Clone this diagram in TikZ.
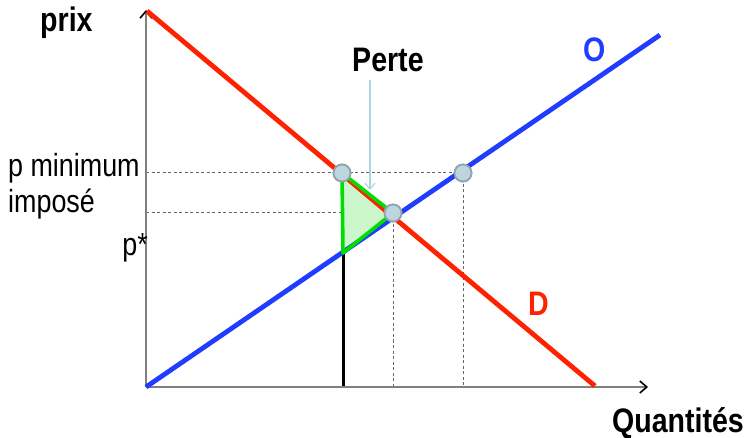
\documentclass[tikz,border=0pt]{standalone}
\usepackage{fontspec}
\setmainfont{Liberation Sans}[FakeStretch=0.84]
\usetikzlibrary{arrows.meta}
\definecolor{dred}{HTML}{FF2200}
\definecolor{sblue}{HTML}{1F3CFF}
\definecolor{lgreen}{HTML}{00DD00}
\definecolor{gfill}{HTML}{CCF6CC}
\definecolor{ptfill}{HTML}{BDD6DD}
\definecolor{ptdraw}{HTML}{8FA6AC}
\definecolor{callout}{HTML}{A9D6DE}
\begin{document}
\begin{tikzpicture}[x=1pt,y=-1pt,
  axis/.style={draw=gray, line width=1.6pt, -{Straight Barb[color=black,length=7pt,width=12pt,line width=1.6pt]}},
  guide/.style={draw=black!60, line width=1pt, dash pattern=on 3pt off 2.5pt},
  pt/.style={circle, fill=ptfill, draw=ptdraw, line width=1.8pt, minimum size=17pt, inner sep=0pt},
  boldlbl/.style={font=\bfseries\fontsize{34}{34}\selectfont},
  lbl/.style={font=\fontsize{32}{32}\selectfont}]
\useasboundingbox (0,0) rectangle (755,438);
% axes
\coordinate (O) at (146,387);
\coordinate (Ytop) at (146,10);
\coordinate (Xend) at (648,387);
% curve ends
\coordinate (Dstart) at (147,11);
\coordinate (Dend) at (595,386);
\coordinate (Send) at (660,35);
% triangle lower vertex
\coordinate (C) at (343,253);
\coordinate (Cfoot) at (343,387);
\coordinate (Eyax) at (146,213);
\coordinate (Myax) at (146,173);
\coordinate (Efoot) at (393,387);
\coordinate (Bfoot) at (463,387);
\coordinate (Arrtop) at (370,80);
\coordinate (Arrend) at (370,190);
% points
\node[pt] (A) at (342,173) {};
\node[pt] (E) at (393,213) {};
\node[pt] (B) at (463,173) {};
% guides
\draw[guide] (Myax) -- (B.center);
\draw[guide] (Eyax) -- (E.center);
\draw[guide] (E.center) -- (Efoot);
\draw[guide] (B.center) -- (Bfoot);
% triangle
\fill[gfill] (A.center) -- (E.center) -- (C) -- cycle;
% black line
\draw[black, line width=3pt] (C) -- (Cfoot);
% axes
\draw[axis] (O) -- (Ytop);
\draw[axis] (O) -- (Xend);
% curves
\draw[dred, line width=4.8pt] (Dstart) -- (Dend);
\draw[sblue, line width=4.8pt] (O) -- (Send);
% triangle outline
\draw[lgreen, line width=3.6pt, line join=round] (A.center) -- (E.center) -- (C) -- cycle;
% points on top
\node[pt] at (A) {};
\node[pt] at (E) {};
\node[pt] at (B) {};
% callout
\draw[callout, line width=1.2pt, -{Straight Barb[length=6pt,width=10pt]}] (Arrtop) -- (Arrend);
% labels
\node[boldlbl, anchor=base east, inner sep=0pt] (qte) at (744,432) {Quantités};
\node[boldlbl, anchor=base west, inner sep=0pt] (prix) at (40,32) {prix};
\node[boldlbl, anchor=base west, inner sep=0pt] (perte) at (352,72) {Perte};
\node[boldlbl, anchor=base west, inner sep=0pt, text=sblue] (olbl) at (583,62) {O};
\node[boldlbl, anchor=base west, inner sep=0pt, text=dred] (dlbl) at (528,316) {D};
\node[lbl, anchor=base west, inner sep=0pt] (pmin) at (8,177) {p minimum};
\node[lbl, anchor=base west, inner sep=0pt] (imp) at (8,213) {imposé};
\node[lbl, anchor=base east, inner sep=0pt] (pstar) at (148,256) {p*};
\end{tikzpicture}
\end{document}
